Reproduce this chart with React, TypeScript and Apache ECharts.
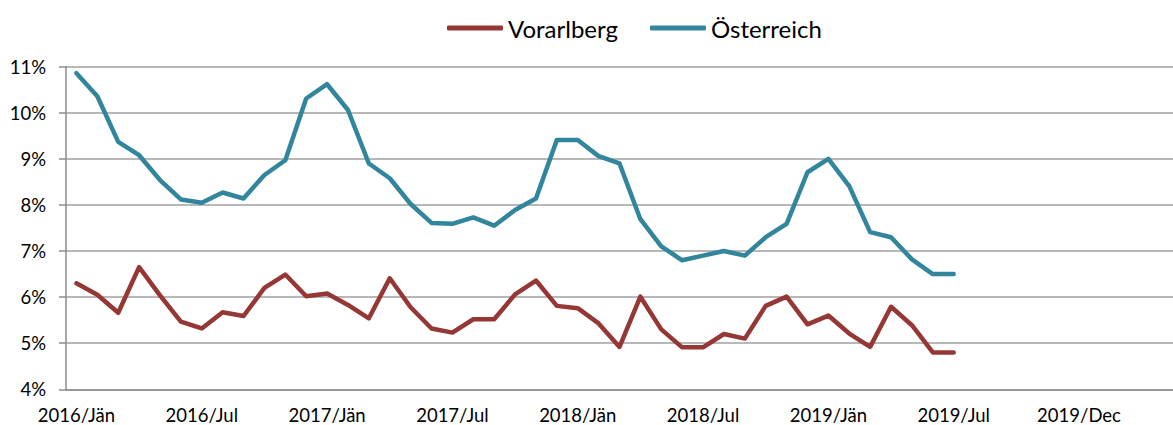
import React, { useEffect, useRef } from "react";
import * as echarts from "echarts";

// 53 monthly slots on the category axis (2016/01 ... 2020/05)
const categories: string[] = [];
for (let y = 2016; y <= 2020; y++) {
  for (let m = 1; m <= 12; m++) {
    if (categories.length < 53) categories.push(`${y}/${m}`);
  }
}

// labels shown every 6th category
const tickLabels = [
  "2016/Jän", "2016/Jul", "2017/Jän", "2017/Jul", "2018/Jän",
  "2018/Jul", "2019/Jän", "2019/Jul", "2019/Dec",
];

const vorarlberg = [
  6.3, 6.05, 5.66, 6.65, 6.04, 5.47, 5.32, 5.67, 5.59, 6.2, 6.49, 6.02,
  6.08, 5.83, 5.54, 6.41, 5.78, 5.32, 5.23, 5.52, 5.52, 6.06, 6.36, 5.81,
  5.76, 5.43, 4.92, 6.01, 5.3, 4.91, 4.91, 5.2, 5.1, 5.81, 6.01, 5.41,
  5.6, 5.21, 4.92, 5.79, 5.39, 4.8, 4.8,
];

const oesterreich = [
  10.86, 10.36, 9.37, 9.08, 8.54, 8.12, 8.05, 8.27, 8.14, 8.65, 8.97, 10.31,
  10.62, 10.06, 8.9, 8.58, 8.02, 7.61, 7.59, 7.73, 7.55, 7.89, 8.14, 9.41,
  9.41, 9.06, 8.9, 7.69, 7.1, 6.8, 6.9, 7.0, 6.9, 7.3, 7.59, 8.71,
  9.0, 8.41, 7.41, 7.3, 6.82, 6.5, 6.5,
];

const FONT = "Lato";

export default function App() {
  const ref = useRef<HTMLDivElement>(null);
  useEffect(() => {
    const chart = echarts.init(ref.current!, null, { renderer: "svg" });
    chart.setOption({
      animation: false,
      legend: {
        top: 11,
        left: 442,
        itemWidth: 56,
        itemHeight: 5,
        itemGap: 32,
        icon: "roundRect",
        textStyle: { fontFamily: FONT, fontSize: 24, color: "#000", padding: [0, 0, 0, 0] },
        data: ["Vorarlberg", "Österreich"],
      },
      grid: { left: 66, top: 66.7, width: 53 * 21.125, height: 322.6 },
      xAxis: {
        type: "category",
        data: categories,
        boundaryGap: true,
        axisLine: { lineStyle: { color: "#8c8c8c", width: 1.5 } },
        axisTick: { interval: 11, length: 6, lineStyle: { color: "#8c8c8c", width: 1.5 } },
        axisLabel: {
          interval: 5,
          margin: 16,
          fontFamily: FONT,
          fontSize: 18.5,
          color: "#000",
          formatter: (_v: string, idx: number) => tickLabels[idx / 6] ?? "",
        },
        splitLine: { show: false },
      },
      yAxis: {
        type: "value",
        min: 4,
        max: 11,
        interval: 1,
        axisLine: { show: true, lineStyle: { color: "#8c8c8c", width: 1.5 } },
        axisTick: { show: true, length: 7, lineStyle: { color: "#8c8c8c", width: 1.5 } },
        axisLabel: {
          margin: 20,
          fontFamily: FONT,
          fontSize: 18.5,
          color: "#000",
          formatter: "{value}%",
        },
        splitLine: { lineStyle: { color: "#a0a0a0", width: 1.5 } },
      },
      series: [
        {
          name: "Vorarlberg",
          type: "line",
          data: vorarlberg,
          showSymbol: false,
          symbol: "none",
          color: "#953735",
          lineStyle: { width: 4.5, cap: "round", join: "round" },
        },
        {
          name: "Österreich",
          type: "line",
          data: oesterreich,
          showSymbol: false,
          symbol: "none",
          color: "#31859c",
          lineStyle: { width: 4.5, cap: "round", join: "round" },
        },
      ],
    });
    return () => chart.dispose();
  }, []);
  return (
    <div
      ref={ref}
      style={{ position: "fixed", left: 0, top: 0, width: 1173, height: 425, background: "#fff" }}
    />
  );
}
